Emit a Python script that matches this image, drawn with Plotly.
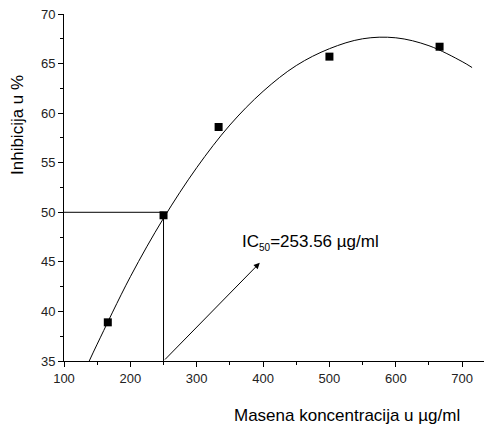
import plotly.graph_objects as go

# measured points
conc = [166, 250, 333, 500, 666]
inhib = [38.9, 49.7, 58.6, 65.7, 66.7]

# fitted curve
curve_x = [138, 150, 200, 250, 300, 350, 400, 450, 500, 550, 600, 650, 700, 715]
curve_y = [35.0, 36.7, 43.5, 49.4, 54.5, 58.8, 62.2, 64.8, 66.5, 67.5, 67.6, 66.8, 65.2, 64.6]

ic50_x = 250
ic50_y = 50
x_min, x_max = 100, 745
y_min, y_max = 35, 70
arrow_tip = (395, 44.9)
label_pos = (365, 47.0)

FONT = "Liberation Sans, Arial"
# page body offset is 8px; figure is sized/margined so plot area lands at the reference pixels
W, H = 484, 417
L, T, B = 56, 6, 64
PW, PH = W - L, H - T - B

fig = go.Figure()
fig.add_trace(go.Scatter(x=curve_x, y=curve_y, mode="lines",
                         line=dict(color="black", width=1, shape="spline"),
                         showlegend=False, hoverinfo="skip"))
fig.add_trace(go.Scatter(x=[x_min, ic50_x, ic50_x], y=[ic50_y, ic50_y, y_min], mode="lines",
                         line=dict(color="black", width=1), showlegend=False, hoverinfo="skip"))
fig.add_trace(go.Scatter(x=conc, y=inhib, mode="markers",
                         marker=dict(symbol="square", size=8, color="black"),
                         showlegend=False))

fig.add_annotation(x=arrow_tip[0], y=arrow_tip[1], ax=ic50_x, ay=y_min,
                   xref="x", yref="y", axref="x", ayref="y",
                   text="", showarrow=True, arrowhead=2, arrowsize=1.2, arrowwidth=1,
                   arrowcolor="black")
fig.add_annotation(x=label_pos[0], y=label_pos[1], xref="x", yref="y",
                   xanchor="left", yanchor="middle",
                   text="IC<sub><span style='font-size:10px'>50</span></sub>=253.56 µg/ml",
                   showarrow=False,
                   font=dict(size=17, color="black", family=FONT))

# axis titles placed by pixel (reference coords minus 8px body offset)
fig.add_annotation(x=(18 - 8 - L) / PW, y=(PH + T - (125 - 8)) / PH,
                   xref="paper", yref="paper", xanchor="center", yanchor="middle",
                   text="Inhibicija u %", showarrow=False, textangle=-90,
                   font=dict(size=17, color="black", family=FONT))
fig.add_annotation(x=(347 - 8 - L) / PW, y=(PH + T - (416 - 8)) / PH,
                   xref="paper", yref="paper", xanchor="center", yanchor="middle",
                   text="Masena koncentracija u µg/ml", showarrow=False,
                   font=dict(size=17, color="black", family=FONT))

axis_common = dict(showgrid=False, zeroline=False, showline=True, linecolor="black", linewidth=1,
                   ticks="outside", ticklen=5, tickwidth=1, tickcolor="black",
                   ticklabeloverflow="allow",
                   tickfont=dict(size=13, color="#222", family=FONT))

fig.update_xaxes(range=[x_min, x_max], dtick=100, tick0=0,
                 minor=dict(dtick=50, ticks="outside", ticklen=3, tickcolor="black"),
                 **axis_common)
fig.update_yaxes(range=[y_min, y_max], dtick=5, tick0=0,
                 minor=dict(dtick=2.5, ticks="outside", ticklen=3, tickcolor="black"),
                 **axis_common)

fig.update_layout(width=W, height=H, plot_bgcolor="white", paper_bgcolor="white",
                  margin=dict(l=L, r=0, t=T, b=B, autoexpand=False), showlegend=False)

fig.write_html("out.html")
